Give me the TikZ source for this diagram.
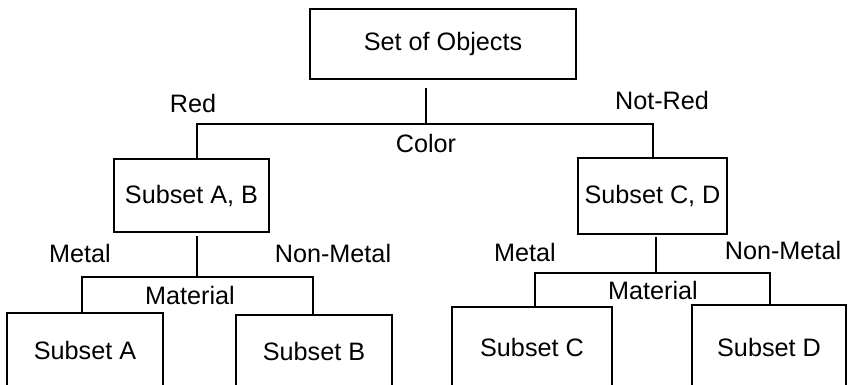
\documentclass[tikz,border=0pt]{standalone}
\usepackage{fontspec}
\setmainfont{Liberation Sans}
\usepackage{tikz}

\begin{document}
\begin{tikzpicture}[x=1pt,y=-1pt,font=\fontsize{25.2}{30}\selectfont]
        \tikzset{box/.style = {shape=rectangle,draw,line width=2pt,inner sep=0pt}}
        \tikzset{link/.style = {line width=1.8pt}}
        \tikzset{tag/.style = {inner sep=0pt}}

        \useasboundingbox (0,0) rectangle (849,384);
        \clip (0,0) rectangle (849,384);

        % boxes
        \node[box,minimum width=266,minimum height=70] (obj) at (443,44) {Set of Objects};
        \node[box,minimum width=155,minimum height=73] (ab) at (191.5,195.5) {Subset A, B};
        \node[box,minimum width=149,minimum height=76] (cd) at (652.5,196) {Subset C, D};

        \foreach \n/\t/\x/\y/\w/\h in {a/A/85/350/156/74, b/B/314/351/156/72,
                                       c/C/532/347/160/80, d/D/769/347/154/84}
            \node[box,minimum width=\w,minimum height=\h] (\n) at (\x,\y) {Subset \t};

        % labels
        \node[tag] (red) at (193,103) {Red};
        \node[tag] (notred) at (662,100) {Not-Red};
        \node[tag] (color) at (426,143) {Color};
        \node[tag] (metalab) at (80,253) {Metal};
        \node[tag] (nonmetalab) at (333,253) {Non-Metal};
        \node[tag] (materialab) at (190,295) {Material};
        \node[tag] (metalcd) at (525,252) {Metal};
        \node[tag] (nonmetalcd) at (783,250) {Non-Metal};
        \node[tag] (materialcd) at (653,290) {Material};

        % junctions
        \coordinate (cj) at (426,124);
        \coordinate (cl) at (197,124);
        \coordinate (cr) at (653,124);
        \coordinate (mj) at (197,277);
        \coordinate (ml) at (82,277);
        \coordinate (mr) at (313,277);
        \coordinate (nj) at (656,273);
        \coordinate (nl) at (535,273);
        \coordinate (nr) at (770,273);

        %edges
        \draw[link,shorten <=8pt] (obj.south -| cj) -- (cj);
        \draw[link] (ab.north -| cl) -- (cl) -- (cr) -- (cd.north -| cr);

        \draw[link,shorten <=3pt] (ab.south -| mj) -- (mj);
        \draw[link] (a.north -| ml) -- (ml) -- (mr) -- (b.north -| mr);

        \draw[link,shorten <=2pt] (cd.south -| nj) -- (nj);
        \draw[link] (c.north -| nl) -- (nl) -- (nr) -- (d.north -| nr);

    \end{tikzpicture}
\end{document}
